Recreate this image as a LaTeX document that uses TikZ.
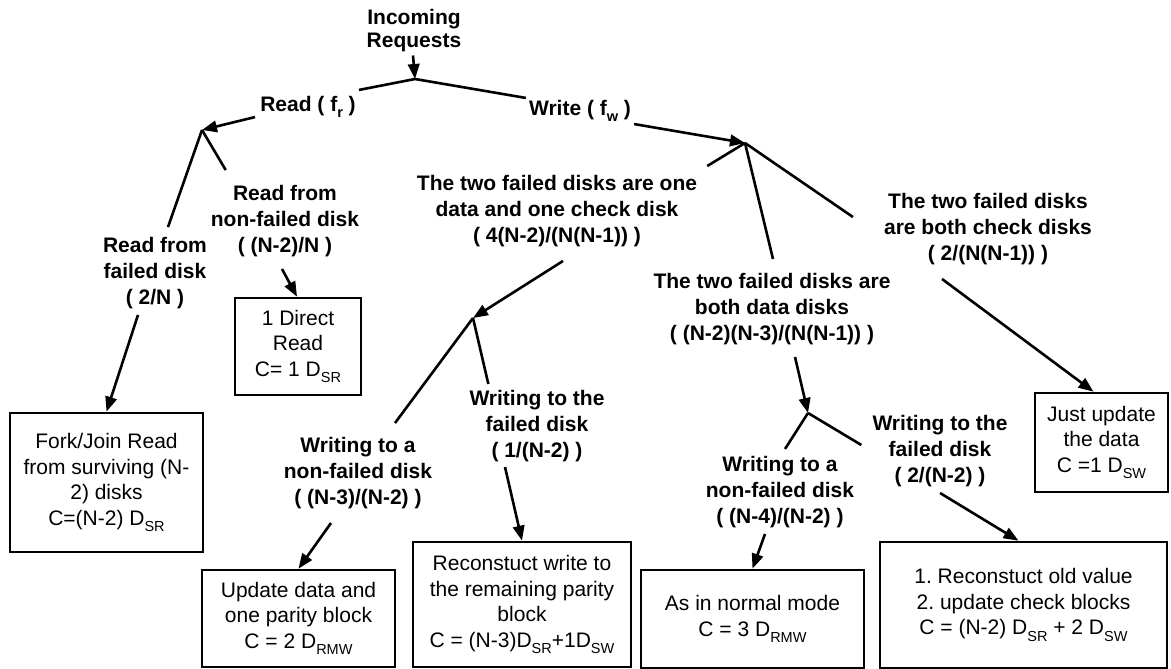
\documentclass[tikz,border=0pt]{standalone}
\usepackage{fontspec}
\setmainfont{Liberation Sans}
\usetikzlibrary{arrows.meta,calc}
% lowered, smaller subscript text
\newcommand{\subtx}[1]{\raisebox{-6.5pt}{\fontsize{14.5}{14.5}\selectfont #1}}
\frenchspacing

\begin{document}
\begin{tikzpicture}[x=1pt,y=-1pt,
  lbl/.style={font=\fontsize{21}{26}\selectfont\bfseries, align=center, inner sep=0pt},
  box/.style={draw, line width=2.6pt, font=\fontsize{21}{25.5}\selectfont, align=center, inner sep=0pt},
  link/.style={line width=2.6pt},
  arr/.style={line width=2.6pt, -{Triangle[length=15pt,width=11.5pt]}},
]
\useasboundingbox (0,0) rectangle (1171,669);

% branch points
\coordinate (J0) at (415,79);
\coordinate (JR) at (202,130);
\coordinate (JW) at (745,143);
\coordinate (JA) at (473,318);
\coordinate (JB) at (808,413);

% branch labels
\node[lbl, font=\fontsize{21}{23}\selectfont\bfseries] (inc) at (414,31) {Incoming\\Requests};
\node[lbl] (rd) at (308,107) {Read ( f\subtx{r} )};
\node[lbl] (wr) at (580,111) {Write ( f\subtx{w} )};
\node[lbl] (rf) at (155,273) {Read from\\failed disk\\( 2/N )};
\node[lbl] (rn) at (285,221) {Read from\\non-failed disk\\( (N-2)/N )};
\node[lbl] (dc) at (557,211) {The two failed disks are one\\data and one check disk\\( 4(N-2)/(N(N-1)) )};
\node[lbl] (dd) at (772,309) {The two failed disks are\\both data disks\\( (N-2)(N-3)/(N(N-1)) )};
\node[lbl] (cc) at (988,229) {The two failed disks\\are both check disks\\( 2/(N(N-1)) )};
\node[lbl] (wa) at (358,473) {Writing to a\\non-failed disk\\( (N-3)/(N-2) )};
\node[lbl] (wf) at (537,426) {Writing to the\\failed disk\\( 1/(N-2) )};
\node[lbl] (wb) at (780,492) {Writing to a\\non-failed disk\\( (N-4)/(N-2) )};
\node[lbl] (wg) at (940,451) {Writing to the\\failed disk\\( 2/(N-2) )};

% cost boxes
\node[box, minimum width=126pt, minimum height=97pt] (bDirect) at (298,346.5) {1 Direct\\Read\\C= 1 D\subtx{SR}};
\node[box, minimum width=193pt, minimum height=139pt] (bFork) at (106.5,482.5) {Fork/Join Read\\from surviving (N-\\2) disks\\C=(N-2) D\subtx{SR}};
\node[box, minimum width=193pt, minimum height=97pt] (bUpd) at (298.5,618.5) {Update data and\\one parity block\\C = 2 D\subtx{RMW}};
\node[box, minimum width=218pt, minimum height=125pt] (bRec) at (522,604.5) {Reconstuct write to\\the remaining parity\\block\\C = (N-3)D\subtx{SR}+1D\subtx{SW}};
\node[box, minimum width=223pt, minimum height=98pt] (bNorm) at (752.5,619) {As in normal mode\\C = 3 D\subtx{RMW}};
\node[box, minimum width=287pt, minimum height=126pt] (bRec2) at (1023.5,605) {1. Reconstuct old value\\2. update check blocks\\C = (N-2) D\subtx{SR} + 2 D\subtx{SW}};
\node[box, minimum width=133pt, minimum height=99pt] (bJust) at (1101.5,442.5) {Just update\\the data\\C =1 D\subtx{SW}};

% top level split
\draw[arr] ($(inc.south)+(-1,3)$) -- (J0);
\draw[link] (J0) -- ($(rd.north east)+(3,-6)$);
\draw[link] (J0) -- ($(wr.north west)+(-3,-2)$);
\draw[arr] ($(rd.south west)+(-5,-1)$) -- (JR);
\draw[arr] ($(wr.south east)+(3,2)$) -- (JW);

% read branch
\draw[link] (JR) -- ($(rf.north)+(13,-10)$);
\draw[link] (JR) -- ($(rn.north west)+(15,-15)$);
\draw[arr] ($(rn.south)+(-3,12)$) -- ($(bDirect.north)+(-1,0)$);
\draw[arr] ($(rf.south)+(-17,6)$) -- (bFork.north);

% write branch
\draw[link] (JW) -- ($(dc.north east)+(10,-9)$);
\draw[link] (JW) -- ($(dd.north)+(1,-14)$);
\draw[link] (JW) -- ($(cc.west)+(-31,-12)$);
\draw[arr] ($(dc.south)+(6,14)$) -- (JA);
\draw[arr] ($(dd.south)+(23,12)$) -- (JB);
\draw[arr] ($(cc.south)+(-46,14)$) -- ($(bJust.north)+(-8,0)$);

% one data and one check disk
\draw[link] (JA) -- ($(wa.north)+(37,-14)$);
\draw[link] (JA) -- ($(wf.north west)+(19,-6)$);
\draw[arr] ($(wa.south)+(-27,14)$) -- (bUpd.north);
\draw[arr] ($(wf.south)+(-32,5)$) -- (bRec.north);

% both data disks
\draw[link] (JB) -- ($(wb.north)+(5,-7)$);
\draw[link] (JB) -- ($(wg.west)+(-11,-6)$);
\draw[arr] ($(wb.south)+(-15,6)$) -- (bNorm.north);
\draw[arr] ($(wg.south)+(0,6)$) -- ($(bRec2.north)+(-5,0)$);
\end{tikzpicture}
\end{document}
